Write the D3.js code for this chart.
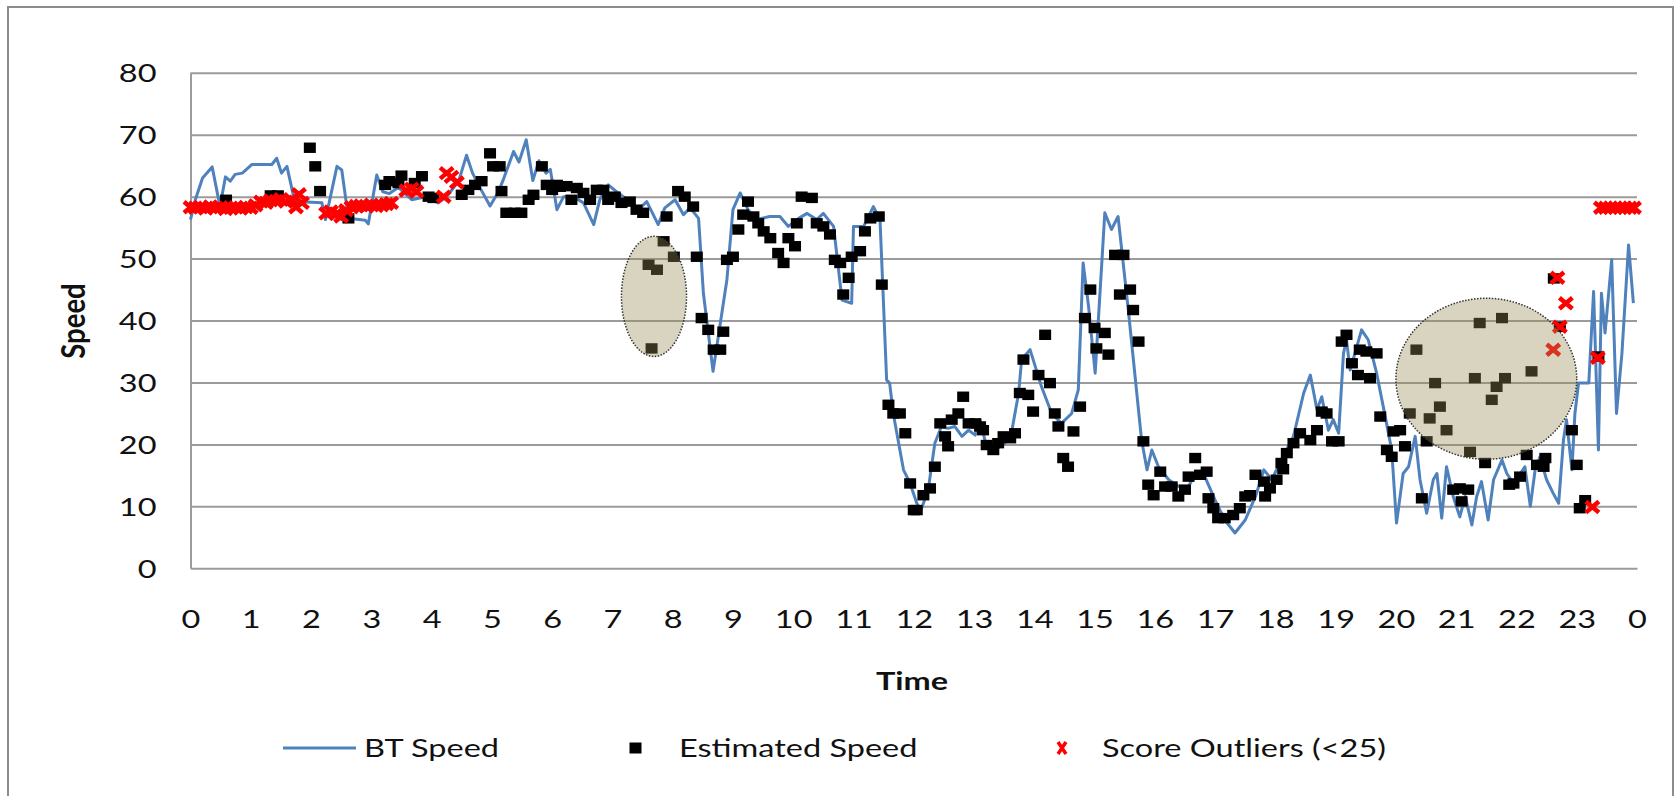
<!DOCTYPE html>
<html>
<head>
<meta charset="utf-8">
<script src="https://cdn.jsdelivr.net/npm/d3@7"></script>
<style>
  body { margin: 0; background: #fff; }
</style>
</head>
<body>
<div class="chart"></div>
<script>
// values, as [hour, speed]
let btSpeed = [
  [0,56.3],[0.08,59.5],[0.2,63.0],[0.36,64.8],[0.49,58.4],[0.58,63.2],[0.66,62.5],[0.74,63.6],[0.86,63.8],
  [1.02,65.2],[1.35,65.2],[1.43,66.2],[1.51,63.8],[1.6,64.9],[1.73,59.2],[1.84,59.2],[2.18,59.0],[2.24,56.3],
  [2.43,64.9],[2.51,64.3],[2.62,56.5],[2.9,56.2],[2.95,55.6],[3.09,63.5],[3.19,60.8],[3.3,60.5],[3.45,61.5],
  [3.67,59.5],[3.9,60.0],[4.11,59.0],[4.25,60.0],[4.45,62.5],[4.58,66.7],[4.68,63.8],[4.8,61.5],[4.97,58.5],
  [5.11,60.8],[5.2,63.0],[5.36,67.3],[5.45,65.6],[5.57,69.2],[5.68,62.6],[5.78,65.8],[5.9,63.8],[5.97,64.4],
  [6.08,57.9],[6.19,60.0],[6.35,60.0],[6.52,59.0],[6.69,55.5],[6.79,59.5],[6.93,61.9],[7.07,60.8],[7.29,59.2],
  [7.43,57.9],[7.57,59.2],[7.76,55.5],[7.87,58.2],[8.04,59.5],[8.18,57.1],[8.29,58.2],[8.43,56.5],[8.51,44.4],
  [8.67,31.8],[8.9,46.6],[9.0,57.9],[9.12,60.6],[9.25,57.9],[9.39,56.3],[9.61,56.8],[9.78,56.8],[9.92,55.2],
  [10.09,56.5],[10.23,57.3],[10.39,56.3],[10.5,57.3],[10.67,55.2],[10.81,43.3],[10.97,42.8],[11.0,55.2],
  [11.17,55.2],[11.33,58.4],[11.44,56.3],[11.5,42.3],[11.55,30.4],[11.6,29.9],[11.66,25.0],[11.83,15.9],
  [11.94,13.7],[12.05,10.5],[12.12,9.4],[12.24,12.7],[12.35,20.2],[12.46,22.9],[12.57,22.6],[12.68,22.9],
  [12.8,21.3],[12.91,22.3],[13.02,21.5],[13.1,24.0],[13.18,20.7],[13.35,19.1],[13.51,20.2],[13.62,21.8],
  [13.74,28.3],[13.79,33.7],[13.93,35.3],[14.12,29.3],[14.29,25.0],[14.45,23.4],[14.62,25.0],[14.73,28.8],
  [14.81,49.3],[14.9,42.3],[15.01,31.5],[15.17,57.4],[15.28,54.7],[15.39,56.8],[15.56,41.7],[15.78,20.7],
  [15.87,15.9],[15.95,19.1],[16.06,16.4],[16.23,14.3],[16.4,13.2],[16.56,13.2],[16.67,15.3],[16.83,14.8],
  [17.0,11.0],[17.16,7.8],[17.33,5.7],[17.5,7.8],[17.67,11.6],[17.81,15.9],[17.94,14.3],[18.1,17.5],
  [18.3,21.3],[18.47,28.3],[18.58,31.2],[18.69,25.6],[18.77,27.7],[18.88,22.3],[18.96,24.0],[19.05,21.8],
  [19.13,34.7],[19.18,36.9],[19.24,32.0],[19.32,34.7],[19.43,38.5],[19.54,36.9],[19.68,31.5],[19.79,26.1],
  [19.93,19.1],[20.01,7.3],[20.12,15.3],[20.21,16.4],[20.32,21.3],[20.4,14.3],[20.51,8.9],[20.62,14.3],
  [20.68,15.3],[20.76,8.1],[20.84,16.4],[20.95,11.6],[21.06,8.3],[21.15,11.6],[21.26,7.0],[21.34,11.6],
  [21.42,14.0],[21.53,7.8],[21.62,14.3],[21.76,17.5],[21.84,15.3],[21.95,13.7],[22.03,14.8],[22.14,16.4],
  [22.23,10.0],[22.31,15.9],[22.39,18.0],[22.5,14.3],[22.61,12.1],[22.7,10.5],[22.78,20.7],[22.83,24.0],
  [22.92,15.9],[22.97,25.0],[23.03,29.9],[23.2,29.9],[23.28,44.7],[23.36,19.1],[23.41,44.4],[23.47,38.0],
  [23.58,49.8],[23.66,25.0],[23.75,34.7],[23.86,52.2],[23.94,42.8]
];

let estimatedSpeed = [
  [0.59,59.5],[1.33,60.2],[1.45,60.2],[1.98,67.9],[2.07,64.9],[2.15,60.9],[2.62,56.5],[3.23,61.9],[3.3,62.5],
  [3.45,62.2],[3.5,63.4],[3.72,62.2],[3.84,63.3],[3.95,60.0],[4.03,59.8],[4.5,60.3],[4.61,61.1],[4.72,61.9],
  [4.83,62.5],[4.97,67.0],[5.02,64.9],[5.13,64.9],[5.16,60.9],[5.24,57.4],[5.38,57.4],[5.49,57.4],[5.61,59.5],
  [5.69,60.3],[5.83,64.9],[5.91,61.9],[6.0,61.1],[6.08,61.9],[6.13,61.6],[6.24,61.7],[6.32,59.5],[6.41,61.4],
  [6.52,60.6],[6.63,59.5],[6.74,61.1],[6.85,61.1],[6.93,59.5],[7.04,60.0],[7.15,59.0],[7.29,59.2],[7.4,57.9],
  [7.51,57.4],[7.6,49.0],[7.65,35.5],[7.74,48.2],[7.85,52.8],[7.9,56.8],[8.02,50.3],[8.09,60.9],[8.2,60.0],
  [8.34,58.4],[8.4,50.3],[8.48,40.4],[8.59,38.5],[8.68,35.3],[8.79,35.3],[8.84,38.2],[8.9,49.8],[9.0,50.3],
  [9.09,54.7],[9.17,57.1],[9.25,59.2],[9.34,56.8],[9.42,55.7],[9.51,54.4],[9.62,53.3],[9.75,50.9],[9.84,49.3],
  [9.92,53.3],[10.03,52.0],[10.06,55.7],[10.14,60.0],[10.31,59.8],[10.39,55.7],[10.5,55.2],[10.61,53.9],
  [10.69,49.8],[10.78,49.3],[10.83,44.2],[10.92,46.9],[10.97,50.3],[11.11,51.2],[11.19,54.4],[11.28,56.5],
  [11.42,56.8],[11.47,45.8],[11.58,26.4],[11.66,25.0],[11.77,25.0],[11.86,21.8],[11.94,13.7],[12.0,9.4],
  [12.05,9.4],[12.16,11.8],[12.27,12.9],[12.35,16.4],[12.44,23.4],[12.52,21.3],[12.57,19.7],[12.63,24.0],
  [12.74,25.0],[12.82,27.7],[12.91,23.4],[13.02,23.4],[13.1,22.9],[13.15,22.3],[13.21,19.9],[13.32,19.1],
  [13.4,20.2],[13.49,21.3],[13.6,21.0],[13.68,21.8],[13.76,28.3],[13.82,33.7],[13.9,28.0],[13.98,25.3],
  [14.07,31.2],[14.18,37.7],[14.26,29.9],[14.34,25.0],[14.4,22.9],[14.48,17.8],[14.56,16.4],[14.65,22.1],
  [14.76,26.1],[14.84,40.4],[14.93,45.0],[15.0,38.8],[15.03,35.5],[15.17,38.0],[15.23,34.5],[15.34,50.6],
  [15.42,44.2],[15.48,50.6],[15.59,45.0],[15.64,41.7],[15.73,36.6],[15.81,20.5],[15.89,13.5],[15.98,11.8],
  [16.09,15.6],[16.17,13.2],[16.28,13.2],[16.39,11.6],[16.5,12.7],[16.56,14.8],[16.67,17.8],[16.75,15.1],
  [16.86,15.6],[16.89,11.3],[16.97,9.7],[17.05,8.1],[17.16,8.1],[17.3,8.6],[17.41,9.7],[17.5,11.6],
  [17.58,11.8],[17.67,15.1],[17.81,14.0],[17.83,11.6],[17.91,12.9],[18.02,14.3],[18.1,17.0],[18.13,16.0],
  [18.19,18.6],[18.3,20.2],[18.41,21.8],[18.58,20.7],[18.69,22.3],[18.77,25.3],[18.85,25.0],[18.94,20.5],
  [19.05,20.5],[19.1,36.6],[19.18,37.7],[19.27,33.1],[19.37,31.2],[19.4,35.3],[19.51,35.0],[19.57,30.7],
  [19.68,34.7],[19.74,24.5],[19.85,19.1],[19.93,18.0],[19.96,22.1],[20.07,22.3],[20.15,19.7],[20.23,25.0],
  [20.34,35.3],[20.43,11.3],[20.51,20.5],[20.56,24.2],[20.65,29.9],[20.73,26.1],[20.84,22.3],[20.95,12.7],
  [21.06,12.9],[21.09,10.8],[21.2,12.7],[21.23,18.8],[21.31,30.7],[21.39,39.6],[21.48,17.0],[21.59,27.2],
  [21.67,29.3],[21.76,40.4],[21.81,30.7],[21.88,13.5],[21.95,13.7],[22.06,14.8],[22.17,18.3],[22.25,31.8],
  [22.34,16.7],[22.45,16.4],[22.48,17.8],[22.62,46.8],[22.72,39.0],[22.92,22.3],[23.0,16.7],[23.05,9.7],
  [23.14,11.0],[23.36,34.2]
];

let scoreOutliers = [
  [0,58.3],[0.08,58.2],[0.17,58.3],[0.25,58.1],[0.33,58.4],[0.42,58.2],[0.5,58.3],[0.58,58.0],[0.67,58.2],
  [0.75,58.3],[0.83,58.1],[0.92,58.3],[1.0,58.2],[1.08,58.6],[1.17,59.2],[1.25,59.0],[1.33,59.4],[1.42,59.3],
  [1.5,59.6],[1.58,59.2],[1.67,59.5],[1.75,58.3],[1.8,60.4],[1.85,59.0],
  [2.25,57.3],[2.33,57.6],[2.42,57.2],[2.5,56.8],[2.58,57.8],[2.67,58.3],[2.75,58.5],[2.83,58.6],[2.92,58.4],
  [3.0,58.7],[3.08,58.5],[3.17,58.6],[3.25,58.8],[3.33,59.0],[3.58,61.0],[3.67,61.3],[3.75,60.8],
  [4.2,60.0],[4.25,63.8],[4.33,63.2],[4.42,62.3],
  [22.61,35.3],[22.68,46.9],[22.72,39.0],[22.82,42.8],[23.26,9.9],[23.35,34.0],
  [23.4,58.2],[23.48,58.2],[23.56,58.2],[23.64,58.2],[23.72,58.2],[23.8,58.2],[23.88,58.2],[23.95,58.2]
];

let hourTicks = d3.range(0, 25);
let speedTicks = [0, 10, 20, 30, 40, 50, 60, 70, 80];

// the two shaded ellipses: [hour, speed, half-width in hours, half-height in speed]
let highlights = [[7.69, 43.9, 0.54, 9.7], [21.5, 30.6, 1.5, 13.0]];

let legendItems = ["BT Speed", "Estimated Speed", "Score Outliers (<25)"];

let width = 1678, height = 796;
let font = "Lato, 'Open Sans', sans-serif";
let fontSize = 25;
let sx = 1.3;   // the picture's text is wider than the font
let gridColor = "#9b9b9b";

let x = d3.scaleLinear().domain([0, 24]).range([190.5, 1637]);
let y = d3.scaleLinear().domain([0, 80]).range([568.3, 72.8]);

let svg = d3.select(".chart").append("svg")
    .attr("width", width)
    .attr("height", height)
    .style("display", "block");

svg.append("rect")
    .attr("x", 8).attr("y", 7)
    .attr("width", 1665).attr("height", 800)
    .attr("fill", "#fff")
    .attr("stroke", "#8c8c8c")
    .attr("stroke-width", 2);

// gridlines
let grid = svg.append("g")
    .attr("transform", `translate(${x(0)},0)`)
    .call(d3.axisLeft(y).tickValues(speedTicks.slice(1)).tickSize(-(x(24) - x(0))).tickFormat(""));
grid.select(".domain").remove();
grid.selectAll("line").attr("stroke", gridColor).attr("stroke-width", 2);

// y axis
let yAxis = svg.append("g")
    .attr("transform", `translate(${x(0)},0)`)
    .call(d3.axisLeft(y).tickValues(speedTicks).tickSize(0).tickSizeOuter(0).tickPadding(0))
    .attr("font-family", font)
    .attr("font-size", fontSize);
yAxis.select(".domain").attr("stroke", gridColor).attr("stroke-width", 2);
yAxis.selectAll("text")
    .attr("x", 0).attr("dy", null)
    .attr("fill", "#111")
    .attr("transform", `translate(-34,${fontSize * 0.36}) scale(${sx},1)`);

// x axis
let xAxis = svg.append("g")
    .attr("transform", `translate(0,${y(0)})`)
    .call(d3.axisBottom(x).tickValues(hourTicks).tickFormat(d => d % 24).tickSize(0).tickSizeOuter(0).tickPadding(0))
    .attr("font-family", font)
    .attr("font-size", fontSize);
xAxis.select(".domain").attr("stroke", gridColor).attr("stroke-width", 2);
xAxis.selectAll("text")
    .attr("y", 0).attr("dy", null)
    .attr("fill", "#111")
    .attr("transform", `translate(0,${50.3 + fontSize * 0.36}) scale(${sx},1)`);

// axis titles
svg.append("text")
    .attr("transform", `translate(912,${680.8 + fontSize * 0.36}) scale(${sx},1)`)
    .attr("text-anchor", "middle")
    .attr("font-family", font).attr("font-size", fontSize).attr("font-weight", "bold")
    .attr("fill", "#111")
    .text("Time");

svg.append("text")
    .attr("transform", `translate(${75.5 + fontSize * 0.36},321) rotate(-90) scale(1.1,${sx})`)
    .attr("text-anchor", "middle")
    .attr("font-family", font).attr("font-size", fontSize).attr("font-weight", "bold")
    .attr("fill", "#111")
    .text("Speed");

// BT Speed line
let line = d3.line().x(d => x(d[0])).y(d => y(d[1]));
svg.append("path")
    .datum(btSpeed)
    .attr("d", line)
    .attr("fill", "none")
    .attr("stroke", "#4f81bd")
    .attr("stroke-width", 3)
    .attr("stroke-linejoin", "round");

// estimated speed squares
svg.append("g").selectAll("rect")
    .data(estimatedSpeed)
    .join("rect")
    .attr("x", d => x(d[0]) - 6)
    .attr("y", d => y(d[1]) - 5.2)
    .attr("width", 12)
    .attr("height", 10.4)
    .attr("fill", "#000");

// score outliers crosses
let cross = "M-6.5,-5.5L6.5,5.5M-6.5,5.5L6.5,-5.5";
svg.append("g").selectAll("path")
    .data(scoreOutliers)
    .join("path")
    .attr("transform", d => `translate(${x(d[0])},${y(d[1])})`)
    .attr("d", cross)
    .attr("stroke", "#ff0000")
    .attr("stroke-width", 4.5);

// shaded ellipses on top
svg.append("g").selectAll("ellipse")
    .data(highlights)
    .join("ellipse")
    .attr("cx", d => x(d[0]))
    .attr("cy", d => y(d[1]))
    .attr("rx", d => x(d[2]) - x(0))
    .attr("ry", d => y(0) - y(d[3]))
    .attr("fill", "#948a54")
    .attr("fill-opacity", 0.37)
    .attr("stroke", "#333")
    .attr("stroke-width", 1.5)
    .attr("stroke-dasharray", "1.5 1.5");

// legend
let legendY = 748;
let legend = svg.append("g").attr("font-family", font).attr("font-size", fontSize).attr("fill", "#111");

legend.append("line")
    .attr("x1", 283).attr("x2", 356)
    .attr("y1", legendY).attr("y2", legendY)
    .attr("stroke", "#4f81bd").attr("stroke-width", 3);

legend.append("rect")
    .attr("x", 629.5).attr("y", legendY - 5.5)
    .attr("width", 12).attr("height", 11)
    .attr("fill", "#000");

legend.append("path")
    .attr("transform", `translate(1062,${legendY})`)
    .attr("d", "M-4,-6L4,6M-4,6L4,-6")
    .attr("stroke", "#ff0000")
    .attr("stroke-width", 3.5);

legend.selectAll("text")
    .data(legendItems)
    .join("text")
    .attr("transform", (d, i) => `translate(${[364, 679, 1102][i]},${legendY + fontSize * 0.36}) scale(${sx},1)`)
    .text(d => d);
</script>
</body>
</html>
